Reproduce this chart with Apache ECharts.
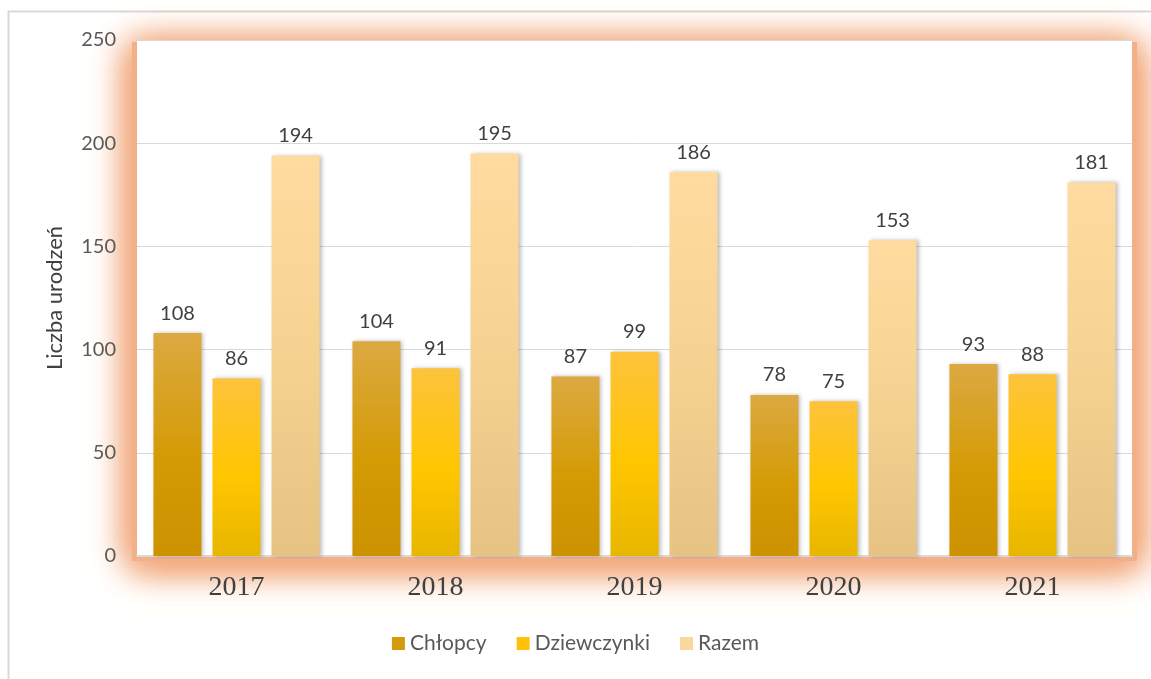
<!DOCTYPE html>
<html>
<head>
<meta charset="utf-8">
<script src="https://cdn.jsdelivr.net/npm/echarts@6/dist/echarts.min.js"></script>
<style>
  html, body { margin: 0; padding: 0; background: #fff; }
  #chart { width: 1151px; height: 679px; }
</style>
</head>
<body>
<div id="chart"></div>
<script>
  const years = ['2017', '2018', '2019', '2020', '2021'];
  const boys = [108, 104, 87, 78, 93];
  const girls = [86, 91, 99, 75, 88];
  const total = [194, 195, 186, 153, 181];

  const chart = echarts.init(document.getElementById('chart'));

  const grad = (top, mid, bottom) => new echarts.graphic.LinearGradient(0, 0, 0, 1, [
    { offset: 0, color: top },
    { offset: 0.55, color: mid },
    { offset: 1, color: bottom },
  ]);

  const label = {
    show: true,
    position: 'top',
    distance: 10,
    fontFamily: 'Lato',
    fontSize: 20,
    color: '#404040',
  };

  const barShadow = {
    shadowBlur: 4,
    shadowColor: 'rgba(0,0,0,0.25)',
    shadowOffsetX: 2,
    shadowOffsetY: 0,
  };

  // plot area box (px) - used for the orange glow behind it
  const plot = { left: 137, top: 40, right: 1132, bottom: 556 };

  // soft orange glow: a few stacked blurred rects behind the plot
  const glow = [0, 1, 2].map((i) => ({
    type: 'rect',
    shape: {
      x: plot.left - 5,
      y: plot.top + 2,
      width: plot.right - plot.left + 10,
      height: plot.bottom - plot.top + 3,
    },
    style: {
      fill: '#F3B088',
      shadowBlur: 34,
      shadowColor: '#F2A97C',
      shadowOffsetY: 4,
    },
    z: -5 + i,
  }));

  const option = {
    backgroundColor: '#fff',
    graphic: [
      {
        type: 'rect',
        shape: { x: 8.5, y: 11.5, width: 1160, height: 700 },
        style: { fill: 'none', stroke: '#d9d9d9', lineWidth: 2 },
        z: -10,
      },
    ].concat(glow),
    legend: {
      bottom: 20,
      left: 'center',
      itemWidth: 13,
      itemHeight: 13,
      itemGap: 30,
      icon: 'rect',
      textStyle: { fontFamily: 'Lato', fontSize: 21, color: '#595959' },
      data: [
        { name: 'Chłopcy', itemStyle: { color: '#D39B0C' } },
        { name: 'Dziewczynki', itemStyle: { color: '#FFC10A' } },
        { name: 'Razem', itemStyle: { color: '#FAD79C' } },
      ],
    },
    grid: {
      left: plot.left,
      right: 1151 - plot.right,
      top: plot.top,
      bottom: 679 - plot.bottom,
      show: true,
      backgroundColor: '#fff',
      borderWidth: 0,
    },
    xAxis: {
      type: 'category',
      data: years,
      axisLine: { lineStyle: { color: '#d9d9d9', width: 2 } },
      axisTick: { show: false },
      axisLabel: {
        margin: 18,
        fontFamily: 'Liberation Serif',
        fontSize: 28,
        color: '#404040',
      },
    },
    yAxis: {
      type: 'value',
      min: 0,
      max: 250,
      interval: 50,
      name: 'Liczba urodzeń',
      nameLocation: 'middle',
      nameGap: 71,
      nameTextStyle: { fontFamily: 'Lato', fontSize: 22, color: '#404040' },
      axisLine: { show: false },
      axisTick: { show: false },
      splitLine: { lineStyle: { color: '#d9d9d9', width: 1 } },
      axisLabel: {
        margin: 21,
        fontFamily: 'Lato',
        fontSize: 20,
        color: '#595959',
      },
    },
    series: [
      {
        name: 'Chłopcy',
        type: 'bar',
        data: boys,
        barWidth: 48,
        barGap: '23%',
        label,
        itemStyle: Object.assign({ color: grad('#DCA942', '#D49B05', '#CC9200') }, barShadow),
      },
      {
        name: 'Dziewczynki',
        type: 'bar',
        data: girls,
        barWidth: 48,
        label,
        itemStyle: Object.assign({ color: grad('#FDC33C', '#FFC600', '#E8B600') }, barShadow),
      },
      {
        name: 'Razem',
        type: 'bar',
        data: total,
        barWidth: 48,
        label,
        itemStyle: Object.assign({ color: grad('#FFDBA0', '#F5D190', '#E6C283') }, barShadow),
      },
    ],
  };

  chart.setOption(option);
</script>
</body>
</html>
